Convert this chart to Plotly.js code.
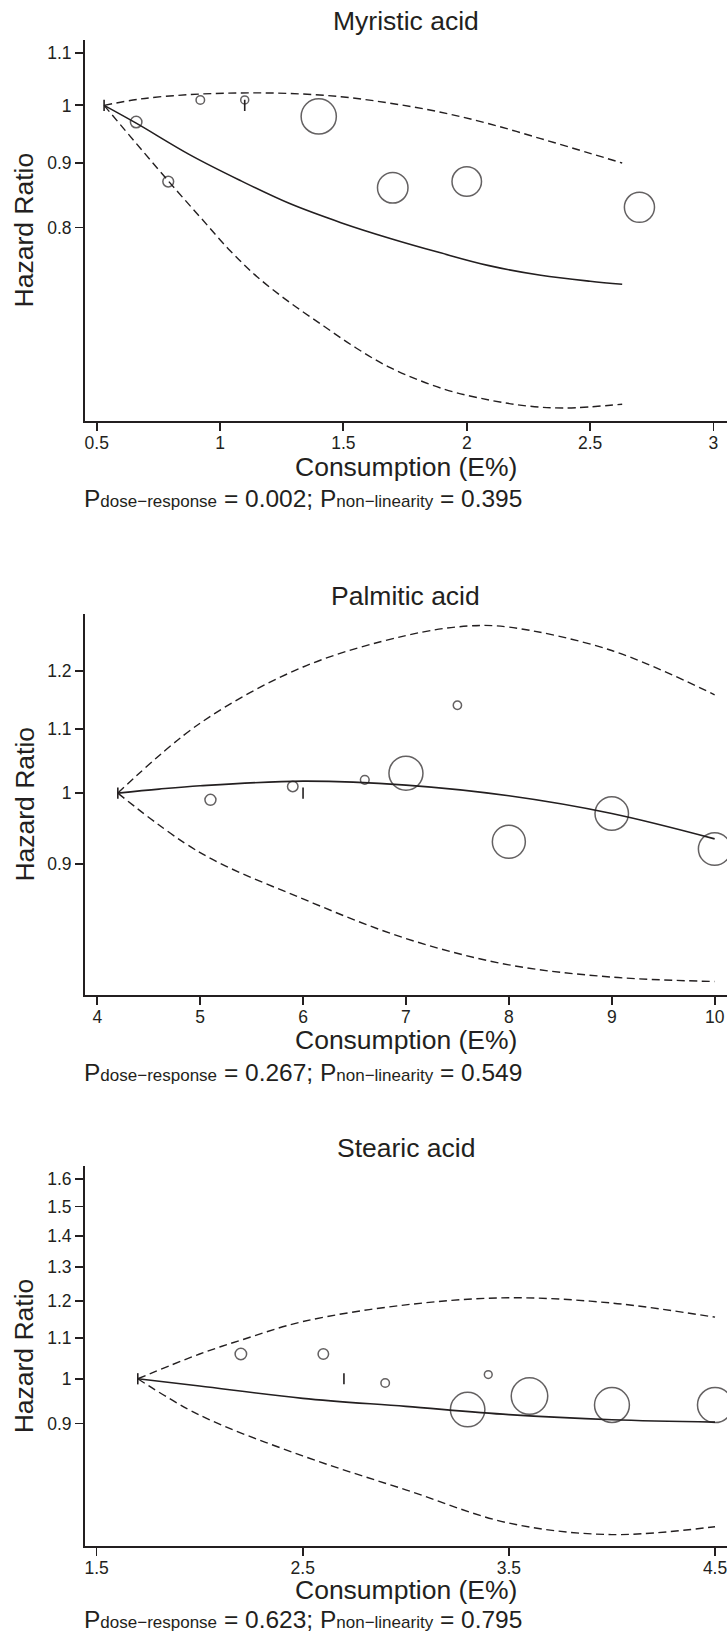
<!DOCTYPE html>
<html>
<head>
<meta charset="utf-8">
<script src="https://cdn.plot.ly/plotly-3.0.1.min.js"></script>
<style>
html,body{margin:0;padding:0;background:#fff;overflow:hidden;}
#chart{width:727px;height:1641px;}
</style>
</head>
<body>
<div id="chart"></div>
<script>
// ---------------- DATA ----------------
// Myristic acid
const myrTitle = "Myristic acid";
const myrStudyX  = [0.66, 0.79, 0.92, 1.1, 1.4, 1.7, 2.0, 2.7];
const myrStudyHR = [0.97, 0.87, 1.01, 1.01, 0.98, 0.86, 0.87, 0.83];
const myrStudyW  = [13, 12.3, 10, 9.5, 36.7, 32, 31, 31.6];
const myrRefX  = [0.53, 1.1];
const myrRefHR = [1.0, 1.0];
const myrFitX  = [0.53, 0.66, 0.88, 1.08, 1.28, 1.49, 1.69, 1.89, 2.09, 2.3, 2.5, 2.63];
const myrFitHR = [1.0, 0.968, 0.913, 0.872, 0.836, 0.807, 0.784, 0.764, 0.746, 0.733, 0.725, 0.721];
const myrUpX   = [0.53, 0.68, 0.88, 1.08, 1.28, 1.49, 1.69, 1.89, 2.09, 2.3, 2.5, 2.63];
const myrUpHR  = [1.0, 1.012, 1.020, 1.023, 1.022, 1.016, 1.004, 0.988, 0.967, 0.941, 0.916, 0.90];
const myrLoX   = [0.53, 0.79, 0.92, 1.04, 1.15, 1.28, 1.42, 1.55, 1.69, 1.91, 2.1, 2.25, 2.4, 2.63];
const myrLoHR  = [1.0, 0.871, 0.815, 0.767, 0.731, 0.698, 0.668, 0.642, 0.619, 0.595, 0.583, 0.577, 0.575, 0.579];
const myrXTicks = [0.5, 1, 1.5, 2, 2.5, 3];
const myrXTickText = ["0.5", "1", "1.5", "2", "2.5", "3"];
const myrYTicks = [0.8, 0.9, 1, 1.1];
const myrYTickText = ["0.8", "0.9", "1", "1.1"];
const myrPdose = "0.002", myrPnonlin = "0.395";

// Palmitic acid
const palTitle = "Palmitic acid";
const palStudyX  = [5.1, 5.9, 6.6, 7.0, 7.5, 8.0, 9.0, 10.0];
const palStudyHR = [0.99, 1.01, 1.02, 1.03, 1.14, 0.93, 0.97, 0.92];
const palStudyW  = [12.5, 12, 10.2, 35.5, 9.8, 34.5, 35, 34];
const palRefX  = [4.2, 6.0];
const palRefHR = [1.0, 1.0];
const palFitX  = [4.2, 4.6, 5, 6, 7, 8, 9, 10];
const palFitHR = [1.0, 1.006, 1.011, 1.018, 1.012, 0.996, 0.970, 0.934];
const palUpX   = [4.2, 5, 6, 7, 7.6, 8, 9, 10];
const palUpHR  = [1.0, 1.11, 1.207, 1.265, 1.283, 1.281, 1.237, 1.158];
const palLoX   = [4.2, 5, 6, 7, 8, 9, 10];
const palLoHR  = [1.0, 0.915, 0.854, 0.805, 0.774, 0.760, 0.755];
const palXTicks = [4, 5, 6, 7, 8, 9, 10];
const palXTickText = ["4", "5", "6", "7", "8", "9", "10"];
const palYTicks = [0.9, 1, 1.1, 1.2];
const palYTickText = ["0.9", "1", "1.1", "1.2"];
const palPdose = "0.267", palPnonlin = "0.549";

// Stearic acid
const steTitle = "Stearic acid";
const steStudyX  = [2.2, 2.6, 2.9, 3.3, 3.4, 3.6, 4.0, 4.5];
const steStudyHR = [1.06, 1.06, 0.99, 0.93, 1.01, 0.96, 0.94, 0.94];
const steStudyW  = [13, 12, 10, 36, 9.3, 38, 36.4, 36.6];
const steRefX  = [1.7, 2.7];
const steRefHR = [1.0, 1.0];
const steFitX  = [1.7, 2.0, 2.5, 3.0, 3.5, 4.0, 4.5];
const steFitHR = [1.0, 0.983, 0.955, 0.937, 0.919, 0.908, 0.903];
const steUpX   = [1.7, 2.0, 2.2, 2.5, 3.0, 3.5, 4.0, 4.5];
const steUpHR  = [1.0, 1.06, 1.095, 1.144, 1.19, 1.21, 1.195, 1.156];
const steLoX   = [1.7, 2.0, 2.5, 3.0, 3.5, 4.0, 4.5];
const steLoHR  = [1.0, 0.918, 0.834, 0.770, 0.712, 0.693, 0.706];
const steXTicks = [1.5, 2.5, 3.5, 4.5];
const steXTickText = ["1.5", "2.5", "3.5", "4.5"];
const steYTicks = [0.9, 1, 1.1, 1.2, 1.3, 1.4, 1.5, 1.6];
const steYTickText = ["0.9", "1", "1.1", "1.2", "1.3", "1.4", "1.5", "1.6"];
const stePdose = "0.623", stePnonlin = "0.795";

const xTitleText = "Consumption (E%)";
const yTitleText = "Hazard Ratio";

// ---------------- LAYOUT / STYLE ----------------
const W = 727, H = 1641;
const INK = "#231f20";
const FONT = "'Liberation Sans', Arial, Helvetica, sans-serif";
const PLOT_L = 85, PLOT_R = 727;

const panels = [
  {title: myrTitle, sx: myrStudyX, sy: myrStudyHR, sw: myrStudyW, rx: myrRefX, ry: myrRefHR,
   fx: myrFitX, fy: myrFitHR, ux: myrUpX, uy: myrUpHR, lx: myrLoX, ly: myrLoHR,
   xt: myrXTicks, xtt: myrXTickText, yt: myrYTicks, ytt: myrYTickText, pd: myrPdose, pn: myrPnonlin,
   top: 40, bot: 420.7, xr: [0.4526, 3.0549], yr: [0.5618, 1.127],
   tOff: 9.5, xtOff: 55.5, pOff: 86.5},
  {title: palTitle, sx: palStudyX, sy: palStudyHR, sw: palStudyW, rx: palRefX, ry: palRefHR,
   fx: palFitX, fy: palFitHR, ux: palUpX, uy: palUpHR, lx: palLoX, ly: palLoHR,
   xt: palXTicks, xtt: palXTickText, yt: palYTicks, ytt: palYTickText, pd: palPdose, pn: palPnonlin,
   top: 614.4, bot: 994.6, xr: [3.881, 10.12], yr: [0.7404, 1.3055],
   tOff: 9.5, xtOff: 55, pOff: 86.5},
  {title: steTitle, sx: steStudyX, sy: steStudyHR, sw: steStudyW, rx: steRefX, ry: steRefHR,
   fx: steFitX, fy: steFitHR, ux: steUpX, uy: steUpHR, lx: steLoX, ly: steLoHR,
   xt: steXTicks, xtt: steXTickText, yt: steYTicks, ytt: steYTickText, pd: stePdose, pn: stePnonlin,
   top: 1166, bot: 1546.4, xr: [1.444, 4.558], yr: [0.674, 1.650],
   tOff: 9, xtOff: 53, pOff: 81.5}
];

const py = px => 1 - px / H;
const pxX = px => px / W;

const traces = [];
const layout = {
  width: W, height: H,
  margin: {l: 0, r: 0, t: 0, b: 0, pad: 0},
  paper_bgcolor: "#fff", plot_bgcolor: "#fff",
  showlegend: false,
  font: {family: FONT, color: INK},
  annotations: []
};

const TITLE_FS = 26.5, TICK_FS = 17.5, P_FS = 24.5, SUB_FS = 17;
const DASH = "8px,4.5px";

panels.forEach((p, i) => {
  const n = i === 0 ? "" : String(i + 1);
  const xa = "x" + n, ya = "y" + n;
  const common = {xaxis: xa, yaxis: ya, hoverinfo: "skip", showlegend: false};

  traces.push(Object.assign({x: p.ux, y: p.uy, mode: "lines",
    line: {color: INK, width: 1.4, dash: DASH, shape: "spline", smoothing: 1}}, common));
  traces.push(Object.assign({x: p.lx, y: p.ly, mode: "lines",
    line: {color: INK, width: 1.4, dash: DASH, shape: "spline", smoothing: 1}}, common));
  traces.push(Object.assign({x: p.fx, y: p.fy, mode: "lines",
    line: {color: INK, width: 1.6, shape: "spline", smoothing: 1}}, common));
  traces.push(Object.assign({x: p.sx, y: p.sy, mode: "markers",
    marker: {symbol: "circle", color: "rgba(0,0,0,0)", size: p.sw.map(d => d - 1.5),
             line: {color: INK, width: 1.5}}}, common));
  traces.push(Object.assign({x: p.rx, y: p.ry, mode: "markers",
    marker: {symbol: "line-ns-open", color: INK, size: 8, line: {color: INK, width: 1.6}}}, common));

  const yDom = [py(p.bot), py(p.top)];
  const axisCommon = {
    showline: true, linecolor: INK, linewidth: 2, mirror: false,
    ticks: "outside", ticklen: 8, tickwidth: 1.8, tickcolor: INK,
    showgrid: false, zeroline: false, fixedrange: true,
    ticklabeloverflow: "allow",
    tickfont: {family: FONT, size: TICK_FS, color: INK}
  };
  layout["xaxis" + n] = Object.assign({
    domain: [pxX(PLOT_L), pxX(PLOT_R)], anchor: ya, range: p.xr,
    tickmode: "array", tickvals: p.xt, ticktext: p.xtt, ticklabelstandoff: -3
  }, axisCommon);
  layout["yaxis" + n] = Object.assign({
    domain: yDom, anchor: xa, type: "log",
    range: [Math.log10(p.yr[0]), Math.log10(p.yr[1])],
    tickmode: "array", tickvals: p.yt, ticktext: p.ytt
  }, axisCommon);

  const cx = (PLOT_L + PLOT_R) / 2;
  const annBase = {xref: "paper", yref: "paper", showarrow: false, borderpad: 0, borderwidth: 0};
  // Panel title
  layout.annotations.push(Object.assign({text: p.title,
    x: pxX(cx), y: py(p.top - p.tOff - 0.3465 * TITLE_FS), xanchor: "center", yanchor: "middle",
    font: {family: FONT, size: TITLE_FS, color: INK}}, annBase));
  // x-axis title
  layout.annotations.push(Object.assign({text: xTitleText,
    x: pxX(cx), y: py(p.bot + p.xtOff - 0.3465 * TITLE_FS), xanchor: "center", yanchor: "middle",
    font: {family: FONT, size: TITLE_FS, color: INK}}, annBase));
  // y-axis title
  layout.annotations.push(Object.assign({text: yTitleText,
    x: pxX(33.3 - 0.3465 * TITLE_FS), y: py((p.top + p.bot) / 2), xanchor: "center", yanchor: "middle",
    textangle: -90, font: {family: FONT, size: TITLE_FS, color: INK}}, annBase));
  // P-values line
  const ptxt = "P<span style='font-size:" + SUB_FS + "px'>dose\u2212response</span> = " + p.pd +
               "; P<span style='font-size:" + SUB_FS + "px'>non\u2212linearity</span> = " + p.pn;
  layout.annotations.push(Object.assign({text: ptxt,
    x: pxX(84.3), y: py(p.bot + p.pOff - 0.905 * P_FS), xanchor: "left", yanchor: "top",
    font: {family: FONT, size: P_FS, color: INK}}, annBase));
});

Plotly.newPlot("chart", traces, layout, {staticPlot: true, displayModeBar: false});
</script>
</body>
</html>
